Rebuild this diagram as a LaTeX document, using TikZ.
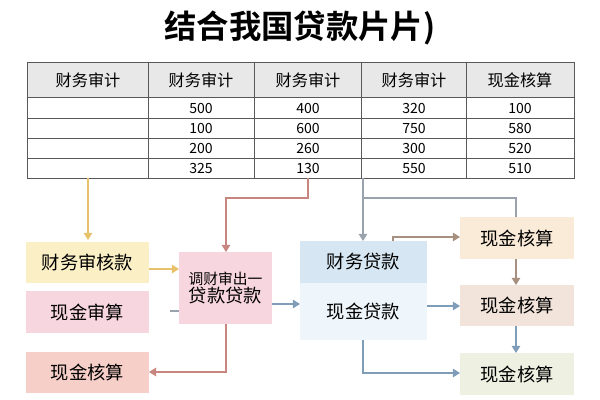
\documentclass[tikz,border=0pt]{standalone}
\usepackage{fontspec}
\setmainfont{Noto Sans CJK SC}
\newfontfamily\cjkbold{Noto Sans CJK SC Bold}
\usetikzlibrary{arrows.meta}
\definecolor{cyel}{HTML}{FBEFC6}
\definecolor{cpink}{HTML}{F8D6E0}
\definecolor{csal}{HTML}{F6CFC8}
\definecolor{cblue}{HTML}{D6E6F2}
\definecolor{cblue2}{HTML}{EEF5FB}
\definecolor{cr1}{HTML}{FAEBD8}
\definecolor{cr2}{HTML}{F2E4DA}
\definecolor{cr3}{HTML}{EEF0E2}
\definecolor{ayel}{HTML}{E8C26A}
\definecolor{ared}{HTML}{C98580}
\definecolor{agray}{HTML}{9AA3AD}
\definecolor{ablue}{HTML}{7F9CB8}
\definecolor{abrown}{HTML}{A89080}
\tikzset{
	box/.style = {inner sep=0pt, align=center, font=\fontsize{13}{15}\selectfont},
	cell/.style = {inner sep=0pt, font=\fontsize{10}{12}\selectfont},
	link/.style = {-{Triangle[length=5pt,width=6pt]}, line width=0.9pt},
	plain/.style = {line width=0.9pt}
}
\begin{document}
\begin{tikzpicture}[x=0.025cm, y=-0.025cm]
		\useasboundingbox (0,0) rectangle (600,400);
		\node [font=\cjkbold\fontsize{23}{25}\selectfont] (title) at (300,28) {结合我国贷款片片)};
		% table
		\fill [gray!18] (27,62) rectangle (574,97);
		\draw [gray!70!black, line width=0.6pt] (27,62) rectangle (574,178);
		\foreach \y in {97,118,138,158} \draw [gray!70!black, line width=0.5pt] (27,\y) -- (574,\y);
		\foreach \x in {148,254,361,466} \draw [gray!70!black, line width=0.5pt] (\x,62) -- (\x,178);
		\foreach \x/\t in {88/财务审计,201/财务审计,308/财务审计,414/财务审计,520/现金核算}
			\node [cell, font=\fontsize{11.5}{13}\selectfont] at (\x,80) {\t};
		\foreach \r/\y in {1/108,2/128,3/148,4/168}{
			\foreach \c/\x in {1/201,2/308,3/414,4/520}{
				\node [cell] (c\r\c) at (\x,\y) {};
			}
		}
		\foreach \n/\t in {c11/500,c12/400,c13/320,c14/100,c21/100,c22/600,c23/750,c24/580,
			c31/200,c32/260,c33/300,c34/520,c41/325,c42/130,c43/550,c44/510}
			\node [cell] at (\n) {\t};
		\coordinate (ta) at (88,178);
		\coordinate (tb) at (308,178);
		\coordinate (tc) at (363,178);
		% boxes
		\fill [cyel] (26,242) rectangle (149,283);
		\node [box] (audit) at (87.5,262.5) {财务审核款};
		\fill [cpink] (26,291) rectangle (149,333);
		\node [box] (cash) at (87.5,312) {现金审算};
		\fill [csal] (26,352) rectangle (149,393);
		\node [box] (left) at (87.5,372.5) {现金核算};
		\fill [cpink] (179,252) rectangle (272,324);
		\node [box, font=\fontsize{10.5}{14}\selectfont] (mid) at (225.5,288) {调财审出一\\[-1pt]{\fontsize{13}{15}\selectfont 贷款贷款}};
		\fill [cblue] (300,241) rectangle (427,283);
		\fill [cblue2] (300,283) rectangle (427,340);
		\node [box] (loan) at (363.5,262) {财务贷款};
		\node [box] (cashloan) at (363.5,311) {现金贷款};
		\fill [cr1] (460,217) rectangle (574,259);
		\node [box] (r1) at (517,238) {现金核算};
		\fill [cr2] (460,285) rectangle (574,326);
		\node [box] (r2) at (517,305.5) {现金核算};
		\fill [cr3] (460,353) rectangle (574,395);
		\node [box] (r3) at (517,374) {现金核算};
		% connectors
		\draw [link, ayel] (ta) -- (88,240);
		\draw [link, ared] (tb) -- (308,198) -- (226,198) -- (226,252);
		\draw [link, agray] (tc) -- (363,241);
		\draw [plain, agray] (363,198) -- (516,198) -- (516,217);
		\draw [link, abrown] (393,241) -- (393,237) -- (460,237);
		\draw [link, ayel] (149,269) -- (179,269);
		\draw [plain, agray] (170,311) -- (179,311);
		\draw [link, ablue] (272,304) -- (300,304);
		\draw [link, ablue] (427,306) -- (460,306);
		\draw [link, abrown] (516,259) -- (516,285);
		\draw [link, ablue] (516,326) -- (516,353);
		\draw [link, ared] (226,324) -- (226,372) -- (149,372);
		\draw [link, ablue] (363,340) -- (363,373) -- (460,373);
\end{tikzpicture}
\end{document}
